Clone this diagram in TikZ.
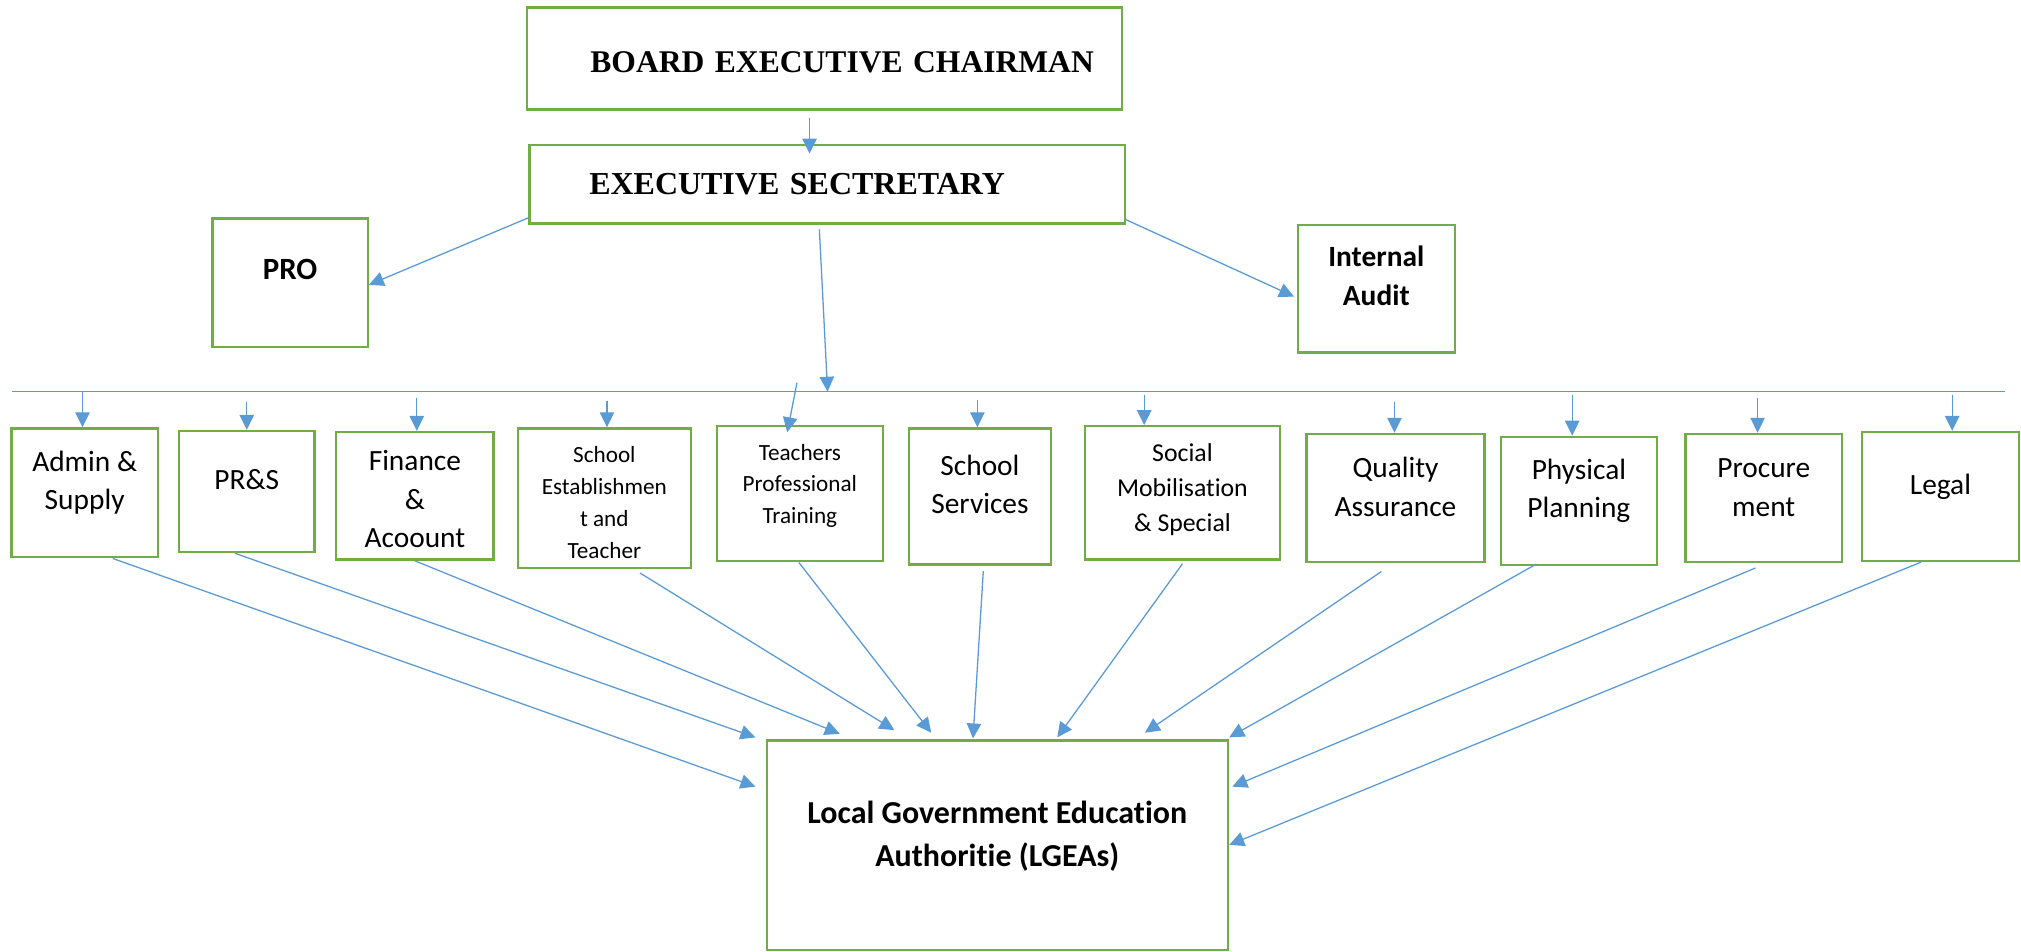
\documentclass[tikz,border=0pt]{standalone}
\usepackage{fontspec}
\setmainfont{Carlito}[Ligatures=NoCommon]
\newfontfamily\timesfont{Liberation Serif}
\usetikzlibrary{arrows.meta, positioning}
\definecolor{boxgreen}{HTML}{70AD47}
\definecolor{linkblue}{HTML}{5B9BD5}
% lines of a box, first baseline on the box's text height
\newcommand{\boxlines}[1]{\begin{tabular}[t]{@{}c@{}}#1\end{tabular}}

\begin{document}
\begin{tikzpicture}[x=0.5pt, y=-0.5pt,
    box/.style={draw=boxgreen, line width=0.9pt, inner xsep=2pt, inner ysep=0pt},
    link/.style={draw=linkblue, line width=0.5pt, -{Triangle[length=5.8pt, width=5.6pt]}}]
  \useasboundingbox (0,0) rectangle (1568,738);

  % Top of the board
  \node[box, minimum width=230.9pt, text height=25.35pt, text depth=14.2pt, text width=209pt, inner xsep=11pt, align=right,
        font=\fontsize{12.25}{15}\timesfont\bfseries] (board) at (639.7,45.3) {BOARD EXECUTIVE CHAIRMAN};
  \node[box, minimum width=230.9pt, text height=19.15pt, text depth=11.25pt, text width=184.5pt, inner xsep=23.2pt, align=left,
        font=\fontsize{12.4}{15}\timesfont\bfseries] (es) at (641.7,142.9) {EXECUTIVE SECTRETARY};
  \node[box, minimum width=60.2pt, text height=23.9pt, text depth=25.9pt,
        font=\fontsize{12}{15}\selectfont\bfseries] (pro) at (225.1,219.2) {PRO};
  \node[box, minimum width=60.9pt, text height=16.15pt, text depth=33.35pt,
        font=\fontsize{11.4}{14.9}\selectfont\bfseries] (ia) at (1067.8,224.1) {\boxlines{Internal\\Audit}};

  \draw[link] ([xshift=-5.8pt, yshift=-2.9pt]board.south) -- ([xshift=-6.8pt, yshift=-3.8pt]es.north);
  \draw[link] ([yshift=2.6pt]es.south west) -- ([yshift=-0.9pt]pro.east);
  \draw[link] ([yshift=1.9pt]es.south east) -- ([xshift=-1pt, yshift=-3pt]ia.west);

  % Bus line to the departments
  \coordinate (busW) at (9,303.9);
  \coordinate (busE) at (1555.8,303.9);
  \coordinate (esdrop) at (642.1,303.9);
  \draw[linkblue, line width=0.5pt] (busW) -- (busE);
  \draw[link] ([xshift=-3pt, yshift=-1.9pt]es.south) -- (esdrop);

  % Departments
  \foreach \name/\cx/\cy/\w/\th/\td/\fs/\bs/\txt in {
      admin/65.7/382.4/113.5/16.55/33.45/11.4/14.9/{Admin \&\\Supply},
      prs/191.4/381.4/105/22.55/24.45/11.4/14.9/{PR\&S},
      fin/321.9/384.7/122/15.1/34.4/11.4/14.9/{Finance\\\&\\Acoount},
      sest/468.9/386.6/134/13.4/40.85/9/12.3/{School\\Establishmen\\t and\\Teacher},
      tpt/620.6/383.1/128.5/13.15/39.25/9/12.3/{Teachers\\Professional\\Training},
      ssv/760.3/385.2/110/18.2/34.6/11.4/14.9/{School\\Services},
      smob/917.4/382.4/151/13.85/37.85/10/13.4/{Social\\Mobilisation\\\& Special},
      qa/1082.7/386.4/138.3/16.95/32.8/11.4/14.9/{Quality\\Assurance},
      pp/1225/388.6/121.2/16.5/33.2/11.4/14.9/{Physical\\Planning},
      proc/1368.4/386.4/121.2/16.95/32.8/11.4/14.9/{Procure\\ment},
      legal/1505.5/385.2/121.8/24.3/25.7/11.4/14.9/{Legal}} {
    \node[box, minimum width=0.5*\w pt, text height=\th pt, text depth=\td pt,
          font=\fontsize{\fs}{\bs}\selectfont] (\name) at (\cx,\cy) {\boxlines{\txt}};
  }

  % Drops from the bus line
  \foreach \name/\ax/\ay in {admin/64/303.9, prs/191.5/311.7, fin/323.4/308.4, sest/470.9/310.9,
      ssv/758.3/310.3, smob/887.7/306.1, qa/1081.9/311.7, pp/1219.8/306.1, proc/1363.6/308.4, legal/1514.6/306.1} {
    \coordinate (tap) at (\ax,\ay);
    \draw[link] (tap) -- (tap |- \name.north);
  }
  \coordinate (tpttap) at (618.3,297);
  \draw[link] (tpttap) -- ([xshift=-4.9pt, yshift=-2.8pt]tpt.north);

  % LGEAs
  \node[box, minimum width=178.75pt, text height=32.05pt, text depth=49.15pt,
        font=\fontsize{12.4}{16.8}\selectfont\bfseries] (lgea) at (773.75,655.8)
    {\boxlines{Local Government Education\\Authoritie (LGEAs)}};

  \foreach \name/\sx/\sy/\ex/\ey in {admin/10.9/0/-4/-18.3, prs/-4.5/0/-4/0.8, fin/0/0/28.7/2.2,
      sest/13.8/-1.4/49.9/3.6, tpt/-0.4/0/64.2/2.6, ssv/1.3/-2.1/80.4/0.4, smob/0/-1.2/113.1/0.8,
      qa/-5.5/-3.2/147.1/2.6, pp/-16.5/0.8/179.8/0.8, proc/-3.2/-1.8/181/-18.3, legal/-7.5/0/179.8/-40.9} {
    \draw[link] ([xshift=\sx pt, yshift=\sy pt]\name.south) -- ([xshift=\ex pt, yshift=\ey pt]lgea.north west);
  }
\end{tikzpicture}
\end{document}
